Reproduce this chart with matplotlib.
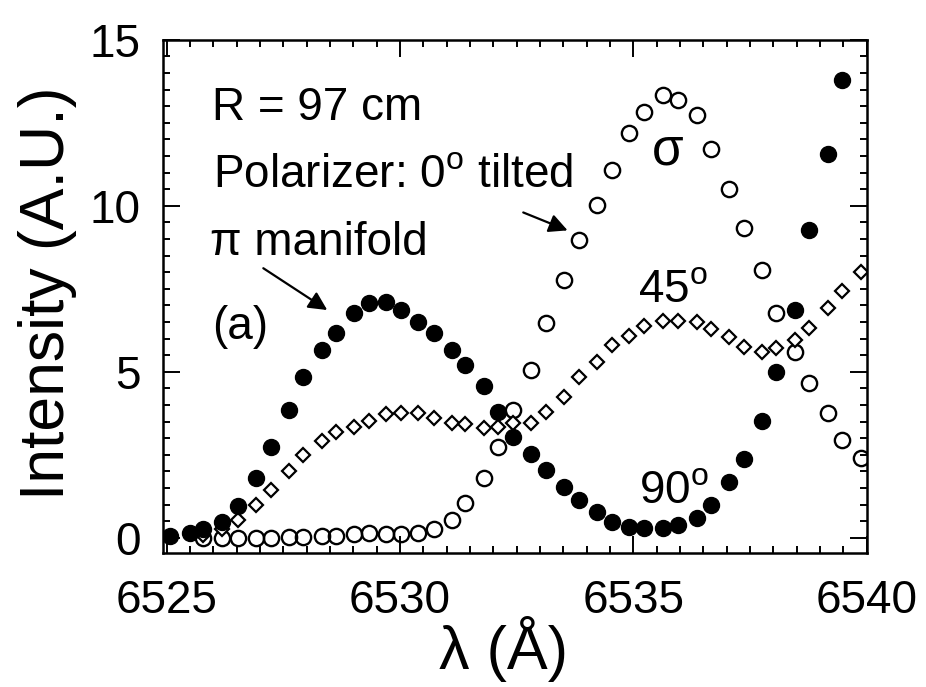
import matplotlib
matplotlib.use("Agg")
import matplotlib.pyplot as plt
from matplotlib.ticker import MultipleLocator

plt.rcParams['font.family'] = ['Liberation Sans', 'DejaVu Sans']
plt.rcParams['mathtext.fontset'] = 'custom'
plt.rcParams['mathtext.rm'] = 'Liberation Sans'

# wavelength grid (Angstrom), shared by all three scans
lam = [6525.08, 6525.50, 6525.78, 6526.19, 6526.52, 6526.92, 6527.24, 6527.61,
       6527.91, 6528.32, 6528.63, 6529.02, 6529.33, 6529.70, 6530.02, 6530.38,
       6530.72, 6531.12, 6531.40, 6531.80, 6532.10, 6532.42, 6532.80, 6533.12,
       6533.51, 6533.83, 6534.23, 6534.55, 6534.91, 6535.23, 6535.63, 6535.95,
       6536.36, 6536.66, 6537.05, 6537.37, 6537.76, 6538.05, 6538.47, 6538.77,
       6539.16, 6539.48, 6539.87]

# filled circles (no point at last wavelength)
pol90 = [0.05, 0.13, 0.25, 0.48, 0.97, 1.80, 2.74, 3.85, 4.83, 5.65, 6.17,
         6.76, 7.06, 7.11, 6.86, 6.51, 6.16, 5.67, 5.20, 4.56, 3.80, 3.04,
         2.52, 2.04, 1.54, 1.14, 0.78, 0.48, 0.31, 0.28, 0.28, 0.38, 0.60,
         0.98, 1.69, 2.36, 3.51, 5.00, 6.86, 9.27, 11.56, 13.79]

# open circles, start at 3rd wavelength
pol0 = [0.00, 0.00, 0.00, 0.00, 0.00, 0.03, 0.03, 0.05, 0.05, 0.12, 0.13,
        0.10, 0.12, 0.15, 0.25, 0.55, 1.06, 1.80, 2.74, 3.85, 5.05, 6.46,
        7.76, 8.97, 10.02, 11.08, 12.18, 12.83, 13.33, 13.18, 12.73, 11.70,
        10.52, 9.32, 8.06, 6.76, 5.60, 4.65, 3.77, 2.96, 2.39]

# diamonds, start at 3rd wavelength
pol45 = [0.08, 0.25, 0.55, 0.98, 1.45, 2.02, 2.49, 2.92, 3.19, 3.34, 3.52,
         3.73, 3.75, 3.75, 3.60, 3.45, 3.42, 3.32, 3.34, 3.45, 3.46, 3.80,
         4.25, 4.85, 5.30, 5.80, 6.08, 6.38, 6.54, 6.54, 6.51, 6.28, 6.04,
         5.75, 5.60, 5.72, 5.95, 6.31, 6.91, 7.44, 8.01]

fig = plt.figure(figsize=(9.26, 6.87), dpi=100)
ax = fig.add_axes([0.176, 0.195, 0.76, 0.747])

ax.plot(lam[2:], pol0, 'o', ms=11, mfc='none', mec='k', mew=1.7)
ax.plot(lam[2:], pol45, 'D', ms=7.5, mfc='white', mec='k', mew=1.6)
ax.plot(lam[:len(pol90)], pol90, 'o', ms=11.5, mfc='k', mec='k')

ax.set_xlim(6524.92, 6540.0)
ax.set_ylim(-0.46, 15)
ax.xaxis.set_major_locator(MultipleLocator(5))
ax.xaxis.set_minor_locator(MultipleLocator(0.5))
ax.yaxis.set_major_locator(MultipleLocator(5))
ax.yaxis.set_minor_locator(MultipleLocator(0.5))
ax.tick_params(which='both', direction='in', top=True, right=True,
               labelsize=33, width=1.4, pad=16)
ax.tick_params(axis='x', which='major', pad=19)
ax.tick_params(which='major', length=12)
ax.tick_params(which='minor', length=5)
for s in ax.spines.values():
    s.set_linewidth(1.8)

ax.set_ylabel('Intensity (A.U.)', fontsize=45)
ax.yaxis.set_label_coords(-0.122, 0.506)
ax.set_xlabel('λ (Å)', fontsize=44)
ax.xaxis.set_label_coords(0.484, -0.122)

fs = 33
ax.text(6525.98, 12.58, 'R = 97 cm', fontsize=fs, va='baseline')
ax.text(6526.0, 10.57, r'Polarizer: 0$^{\rm o}$ tilted', fontsize=fs, va='baseline')
ax.text(6525.93, 8.51, 'π manifold', fontsize=fs, va='baseline')
ax.text(6525.97, 6.0, '(a)', fontsize=fs, va='baseline')
ax.text(6535.73, 11.23, 'σ', fontsize=fs + 4, ha='center', va='baseline')
ax.text(6535.09, 7.10, r'45$^{\rm o}$', fontsize=fs, va='baseline')
ax.text(6535.11, 1.05, r'90$^{\rm o}$', fontsize=fs, va='baseline')

arrow = dict(arrowstyle='-|>', lw=1.6, color='k', mutation_scale=28, shrinkA=0, shrinkB=0)
ax.annotate('', xy=(6528.44, 6.86), xytext=(6527.07, 8.12), arrowprops=arrow)
ax.annotate('', xy=(6533.59, 9.26), xytext=(6532.64, 9.80), arrowprops=arrow)

fig.savefig('out.png', dpi=100)
